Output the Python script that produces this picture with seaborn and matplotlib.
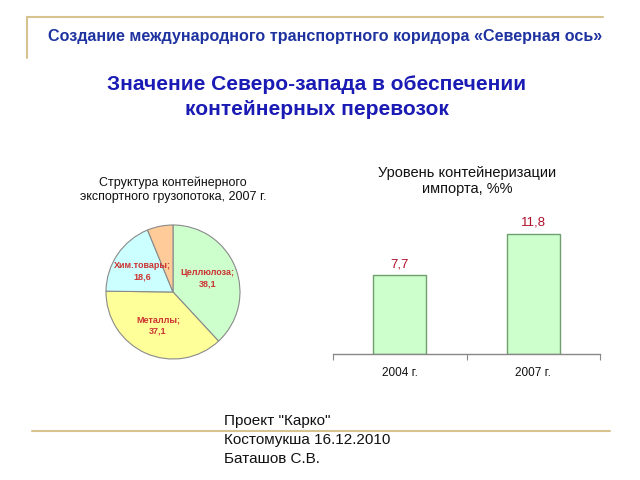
import numpy as np
import pandas as pd
import matplotlib
matplotlib.use("Agg")
import matplotlib.pyplot as plt
import seaborn as sns

sns.set_theme(style="white")
plt.rcParams['font.family'] = ['Liberation Sans', 'DejaVu Sans']

# ---- data ----
header = "Создание международного транспортного коридора «Северная ось»"
main_title = "Значение Северо-запада в обеспечении\nконтейнерных перевозок"
pie_title = "Структура контейнерного\nэкспортного грузопотока, 2007 г."
pie_labels = ["Целлюлоза;", "Металлы;", "Хим.товары;", ""]
pie_values = [38.1, 37.1, 18.6, 6.2]
pie_value_text = ["38,1", "37,1", "18,6", ""]
pie_colors = ["#ccffcc", "#ffff99", "#ccffff", "#ffcc99"]
bar_title = "Уровень контейнеризации\nимпорта, %%"
years = ["2004 г.", "2007 г."]
bar_values = [7.7, 11.8]
bar_value_text = ["7,7", "11,8"]
footer = "Проект \"Карко\"\nКостомукша 16.12.2010\nБаташов С.В."

W, H = 640, 480
fig = plt.figure(figsize=(6.4, 4.8), dpi=100)
fig.patch.set_facecolor("white")

def fx(x):
    return x / W

def fy(y):
    return 1 - y / H

# decorative lines
gold = "#d6c48e"
fig.add_artist(plt.Line2D([fx(27), fx(603)], [fy(17), fy(17)], color=gold, lw=1.5))
fig.add_artist(plt.Line2D([fx(27), fx(27)], [fy(17), fy(58)], color=gold, lw=1.5))

fig.text(fx(325), fy(36), header, ha="center", va="center", fontsize=11.6,
         fontweight="bold", color="#1f33a0")
fig.text(fx(317), fy(97), main_title, ha="center", va="center", fontsize=15,
         fontweight="bold", color="#1a1ab4", linespacing=1.35)
fig.text(fx(224), fy(440), footer, ha="left", va="center", fontsize=11,
         color="#111111", linespacing=1.45, zorder=1)
fig.add_artist(plt.Line2D([fx(32), fx(610)], [fy(431), fy(431)], color=gold, lw=1.5,
                          zorder=3))

# ---- pie ----
cx, cy, r = 173, 292, 67
axp = fig.add_axes([fx(cx - r), fy(cy + r), 2 * r / W, 2 * r / H])
wedges, _ = axp.pie(pie_values, colors=pie_colors, startangle=90, counterclock=False,
                    wedgeprops=dict(edgecolor="#8a8a8a", linewidth=0.8))
axp.set_xlim(-1, 1)
axp.set_ylim(-1, 1)
axp.set_aspect("auto")
for w, lab, val in zip(wedges, pie_labels, pie_value_text):
    if not lab:
        continue
    ang = np.deg2rad((w.theta1 + w.theta2) / 2)
    d = 0.55
    axp.text(d * np.cos(ang), d * np.sin(ang), lab + "\n" + val, ha="center", va="center",
             fontsize=6.5, fontweight="bold", color="#cc3333", linespacing=1.3)
fig.text(fx(173), fy(190), pie_title, ha="center", va="center", fontsize=9,
         color="#111111", linespacing=1.2)

# ---- bars ----
df = pd.DataFrame({"year": years, "value": bar_values})
ax_left, ax_right, base = 333, 600, 354
ymax = 13.0
ppu = 10.2
axb = fig.add_axes([fx(ax_left), fy(base), (ax_right - ax_left) / W, ymax * ppu / H])
sns.barplot(data=df, x="year", y="value", ax=axb, color="#ccffcc", width=0.4,
            edgecolor="#6f9f6f", linewidth=1.0, saturation=1)
axb.set_xlim(-0.5, 1.5)
axb.set_ylim(0, ymax)
axb.set_xlabel("")
axb.set_ylabel("")
axb.set_yticks([])
for s in ["top", "right", "left"]:
    axb.spines[s].set_visible(False)
axb.spines["bottom"].set_color("#888888")
axb.spines["bottom"].set_linewidth(1.0)
axb.set_xticks([-0.5, 0.5, 1.5], minor=True)
axb.tick_params(axis="x", which="minor", bottom=True, length=4, color="#888888", width=0.8)
axb.tick_params(axis="x", which="major", bottom=False, length=0, pad=9, labelsize=8.5,
                labelcolor="#111111")
axb.set_facecolor("none")
for i, (v, t) in enumerate(zip(bar_values, bar_value_text)):
    axb.annotate(t, (i, v), xytext=(0, 3.5), textcoords="offset points", ha="center",
                 va="bottom", fontsize=9.5, color="#b0102a")
fig.text(fx(467), fy(181), bar_title, ha="center", va="center", fontsize=10.5,
         color="#111111", linespacing=1.25)

fig.savefig("out.png", dpi=100)
